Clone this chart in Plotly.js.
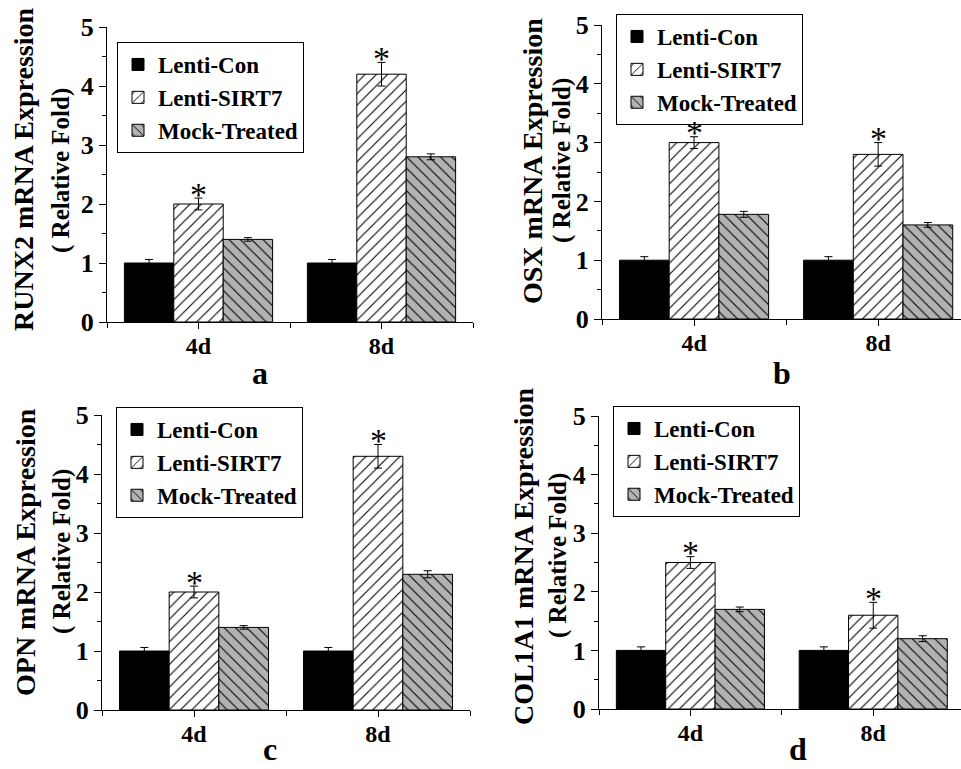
<!DOCTYPE html>
<html>
<head>
<meta charset="utf-8">
<script src="https://cdn.plot.ly/plotly-3.0.1.min.js"></script>
<style>
html,body{margin:0;padding:0;background:#fff;}
#chart{width:961px;height:769px;}
</style>
</head>
<body>
<div id="chart"></div>
<script>
// ---- data ----
const categories = ["4d", "8d"];
const seriesNames = ["Lenti-Con", "Lenti-SIRT7", "Mock-Treated"];
const panelLabels = ["a", "b", "c", "d"];
const genes = ["RUNX2", "OSX", "OPN", "COL1A1"];
const yTitleLine1 = ["RUNX2 mRNA Expression", "OSX mRNA Expression", "OPN mRNA Expression", "COL1A1 mRNA Expression"];
const yTitleLine2 = "( Relative Fold)";
const yTickVals = [0, 1, 2, 3, 4, 5];

// values per panel: [Lenti-Con, Lenti-SIRT7, Mock-Treated], each over categories
const runx2Con = [1.0, 1.0],  runx2Sirt = [2.0, 4.2], runx2Mock = [1.4, 2.8];
const runx2ConErr = [0.06, 0.06], runx2SirtErr = [0.1, 0.2], runx2MockErr = [0.03, 0.05];
const osxCon = [1.0, 1.0], osxSirt = [3.0, 2.8], osxMock = [1.78, 1.6];
const osxConErr = [0.06, 0.06], osxSirtErr = [0.1, 0.2], osxMockErr = [0.05, 0.04];
const opnCon = [1.0, 1.0], opnSirt = [2.0, 4.3], opnMock = [1.4, 2.3];
const opnConErr = [0.06, 0.06], opnSirtErr = [0.1, 0.2], opnMockErr = [0.03, 0.06];
const colCon = [1.0, 1.0], colSirt = [2.5, 1.6], colMock = [1.7, 1.2];
const colConErr = [0.06, 0.06], colSirtErr = [0.1, 0.22], colMockErr = [0.04, 0.05];
// significance markers (*) for Lenti-SIRT7 bars
const sirtSignificant = [true, true];

const panelValues = [
  [runx2Con, runx2Sirt, runx2Mock],
  [osxCon, osxSirt, osxMock],
  [opnCon, opnSirt, opnMock],
  [colCon, colSirt, colMock]
];
const panelErrors = [
  [runx2ConErr, runx2SirtErr, runx2MockErr],
  [osxConErr, osxSirtErr, osxMockErr],
  [opnConErr, opnSirtErr, opnMockErr],
  [colConErr, colSirtErr, colMockErr]
];

// ---- styles ----
const FONT = "Liberation Serif, Times New Roman, serif";
const W = 961, H = 769;
const px = v => v / W, py = v => 1 - v / H;

const seriesStyle = [
  {color: "#000000", pattern: {shape: ""}},
  {color: "#ffffff", pattern: {shape: "/", bgcolor: "#ffffff", fgcolor: "#000000", size: 8, solidity: 0.14, fillmode: "replace"}},
  {color: "#b2b2b2", pattern: {shape: "\\", bgcolor: "#b2b2b2", fgcolor: "#000000", size: 8, solidity: 0.14, fillmode: "replace"}}
];

// panel geometry (pixels)
const panels = [
  {x0: 107, x1: 473, y0: 322, y5: 27,  xmax: 1.5,  leg: [117, 42],  t1x: 23,  t2x: 61,  ty: 170, lab: [260, 373], labBottom: false},
  {x0: 602, x1: 961, y0: 319, y5: 25,  xmax: 1.45, leg: [616, 14],  t1x: 532, t2x: 562, ty: 161, lab: [782, 373], labBottom: false},
  {x0: 102, x1: 470, y0: 710, y5: 415, xmax: 1.5,  leg: [116, 407], t1x: 25,  t2x: 62,  ty: 552, lab: [270, 769], labBottom: true},
  {x0: 599, x1: 961, y0: 709, y5: 416, xmax: 1.48, leg: [613, 406], t1x: 523, t2x: 558, ty: 556, lab: [798, 769], labBottom: true}
];

const xIdx = categories.map((c, i) => i);
const traces = [];
const annotations = [];
const layout = {
  width: W, height: H,
  margin: {l: 0, r: 0, t: 0, b: 0},
  paper_bgcolor: "#fff", plot_bgcolor: "#fff",
  barmode: "group", bargap: 0.19, bargroupgap: 0,
  font: {family: FONT, color: "#000", size: 22, weight: 700},
  showlegend: true,
  annotations: annotations
};

panels.forEach((p, k) => {
  const ax = k === 0 ? "" : String(k + 1);
  const xa = "x" + ax, ya = "y" + ax;
  const legName = k === 0 ? "legend" : "legend" + (k + 1);
  seriesNames.forEach((name, s) => {
    traces.push({
      type: "bar", name: name, x: xIdx, y: panelValues[k][s],
      xaxis: xa, yaxis: ya, legend: legName,
      marker: {color: seriesStyle[s].color, pattern: seriesStyle[s].pattern, line: {color: "#000", width: 1}},
      error_y: {type: "data", array: panelErrors[k][s], visible: true, color: "#000", thickness: 1, width: 4},
      hoverinfo: "skip"
    });
  });
  // asterisks over Lenti-SIRT7 bars
  categories.forEach((c, i) => {
    if (sirtSignificant[i]) {
      annotations.push({
        xref: xa, yref: ya, x: xIdx[i], y: panelValues[k][1][i] + panelErrors[k][1][i],
        text: "*", showarrow: false, yanchor: "middle", xanchor: "center", yshift: 4,
        font: {family: FONT, size: 34, weight: 400, color: "#000"}
      });
    }
  });
  layout["xaxis" + ax] = {
    domain: [px(p.x0), Math.min(1, px(p.x1))], anchor: ya,
    range: [-0.5, p.xmax], fixedrange: true,
    tickvals: xIdx, ticktext: categories,
    ticks: "outside", ticklen: 6, tickwidth: 1, tickcolor: "#000",
    ticklabelstandoff: -4,
    minor: {dtick: 0.5, tick0: -0.5, ticks: "outside", ticklen: 5, tickwidth: 1, tickcolor: "#000"},
    showline: true, linecolor: "#000", linewidth: 1,
    showgrid: false, zeroline: false,
    tickfont: {family: FONT, size: 24, weight: 700, color: "#000"}
  };
  layout["yaxis" + ax] = {
    domain: [py(p.y0), py(p.y5)], anchor: xa,
    range: [0, 5], fixedrange: true,
    tickvals: yTickVals,
    ticks: "outside", ticklen: 7, tickwidth: 1, tickcolor: "#000",
    minor: {dtick: 0.5, tick0: 0, ticks: "outside", ticklen: 4, tickwidth: 1, tickcolor: "#000"},
    showline: true, linecolor: "#000", linewidth: 1,
    showgrid: false, zeroline: false,
    tickfont: {family: FONT, size: 26, weight: 700, color: "#000"}
  };
  layout[legName] = {
    x: px(p.leg[0]), y: py(p.leg[1]), xanchor: "left", yanchor: "top",
    xref: "paper", yref: "paper",
    bgcolor: "#fff", bordercolor: "#000", borderwidth: 1,
    font: {family: FONT, size: 23, weight: 700, color: "#000"},
    tracegroupgap: 0, itemwidth: 30
  };
  annotations.push({
    xref: "paper", yref: "paper", x: px(p.t1x), y: py(p.ty), textangle: -90,
    xanchor: "center", yanchor: "middle", showarrow: false, text: yTitleLine1[k],
    font: {family: FONT, size: 28, weight: 700, color: "#000"}
  });
  annotations.push({
    xref: "paper", yref: "paper", x: px(p.t2x), y: py(p.ty), textangle: -90,
    xanchor: "center", yanchor: "middle", showarrow: false, text: yTitleLine2,
    font: {family: FONT, size: 25, weight: 700, color: "#000"}
  });
  annotations.push({
    xref: "paper", yref: "paper", x: px(p.lab[0]), y: py(p.lab[1]),
    xanchor: "center", yanchor: p.labBottom ? "bottom" : "middle", showarrow: false, text: panelLabels[k],
    font: {family: FONT, size: 32, weight: 700, color: "#000"}
  });
});

Plotly.newPlot("chart", traces, layout, {staticPlot: true, displayModeBar: false});
</script>
</body>
</html>
